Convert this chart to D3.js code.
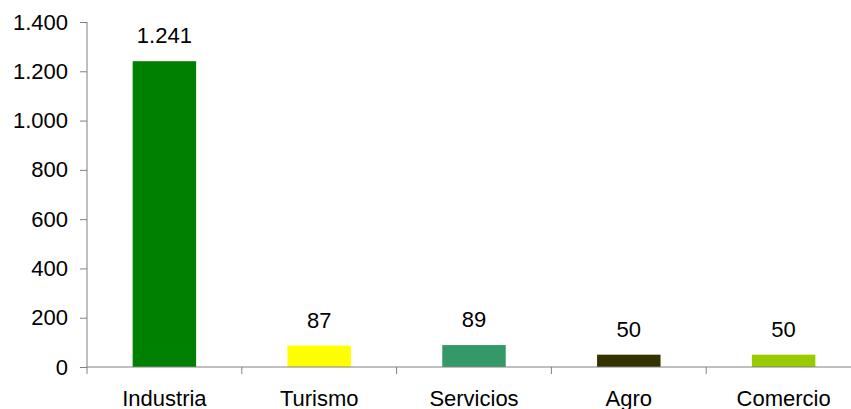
<!DOCTYPE html>
<html>
<head>
<meta charset="utf-8">
<script src="https://cdn.jsdelivr.net/npm/d3@7"></script>
<style>
  html, body { margin: 0; padding: 0; background: #fff; }
  svg { display: block; }
  text { font-family: "Liberation Sans", Arial, sans-serif; fill: #000; }
</style>
</head>
<body>
<svg id="chart" width="851" height="409"></svg>
<script>
const categories = ["Industria", "Turismo", "Servicios", "Agro", "Comercio"];
const values = [1241, 87, 89, 50, 50];
const colors = ["#008000", "#FFFF00", "#339966", "#333300", "#99CC00"];
const yTicks = [0, 200, 400, 600, 800, 1000, 1200, 1400];

const svg = d3.select("#chart");
const axisColor = "#808080";
const fontSize = 22;

const locale = d3.formatLocale({ decimal: ",", thousands: ".", grouping: [3], currency: ["", ""] });
const fmt = locale.format(",d");

const x = d3.scaleBand().domain(categories).range([87, 861]).paddingInner(0).paddingOuter(0);
const y = d3.scaleLinear().domain([0, 1400]).range([367, 22]);
const barW = x.bandwidth() * 0.41;

// bars
svg.selectAll("rect.bar").data(categories).enter().append("rect")
  .attr("class", "bar")
  .attr("x", d => x(d) + x.bandwidth() / 2 - barW / 2)
  .attr("width", barW)
  .attr("y", (d, i) => y(values[i]))
  .attr("height", (d, i) => y(0) - y(values[i]))
  .attr("fill", (d, i) => colors[i]);

// value labels
svg.selectAll("text.val").data(categories).enter().append("text")
  .attr("class", "val")
  .attr("x", d => x(d) + x.bandwidth() / 2)
  .attr("y", (d, i) => y(values[i]) - 18)
  .attr("text-anchor", "middle")
  .style("font-size", fontSize + "px")
  .text((d, i) => fmt(values[i]));

// y axis
const yAxis = d3.axisLeft(y).tickValues(yTicks).tickFormat(fmt).tickSize(7).tickPadding(12);
const gy = svg.append("g").attr("transform", "translate(87,0)").call(yAxis);
gy.select(".domain").remove();
gy.selectAll(".tick line").attr("stroke", axisColor);
gy.selectAll(".tick text").style("font-size", fontSize + "px").attr("font-family", null);
gy.append("line").attr("x1", 0).attr("x2", 0).attr("y1", y(1400)).attr("y2", y(0) + 7).attr("stroke", axisColor);

// x axis
const xAxis = d3.axisBottom(x).tickSize(0).tickPadding(24);
const gx = svg.append("g").attr("transform", `translate(0,${y(0)})`).call(xAxis);
gx.select(".domain").remove();
gx.selectAll(".tick text").style("font-size", fontSize + "px").attr("font-family", null)
  .attr("dy", null).attr("y", 39);
gx.append("line").attr("x1", 87).attr("x2", 861).attr("y1", 0).attr("y2", 0).attr("stroke", axisColor);
gx.selectAll("line.bound").data(categories.slice(1)).enter().append("line")
  .attr("class", "bound")
  .attr("x1", d => x(d)).attr("x2", d => x(d))
  .attr("y1", 0).attr("y2", 7)
  .attr("stroke", axisColor);
</script>
</body>
</html>
